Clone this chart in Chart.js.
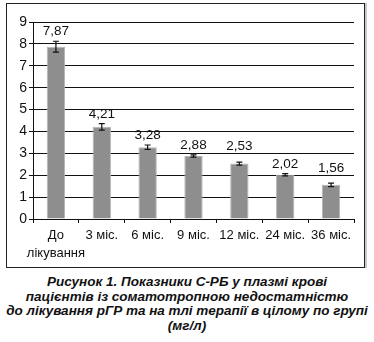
<!DOCTYPE html>
<html>
<head>
<meta charset="utf-8">
<script src="https://cdn.jsdelivr.net/npm/chart.js@4/dist/chart.umd.min.js"></script>
<style>
  body { margin: 0; background: #fff; width: 374px; height: 342px; position: relative; overflow: hidden; }
  .frame {
    position: absolute; left: 6px; top: 3px; width: 357px; height: 263px;
    border: 1px solid #222; box-shadow: 2px 0 0 #c8c8c8;
  }
  #chart { position: absolute; left: 0; top: 0; }
  .caption {
    position: absolute; left: 0; top: 275px; width: 374px; text-align: center;
    font: italic bold 13.5px "Liberation Sans", Arial, sans-serif; line-height: 14.5px; color: #111;
  }
</style>
</head>
<body>
<div class="frame"></div>
<canvas id="chart" width="374" height="270"></canvas>
<div class="caption">
  Рисунок 1. Показники С-РБ у плазмі крові<br>
  пацієнтів із соматотропною недостатністю<br>
  до лікування рГР та на тлі терапії в цілому по групі<br>
  (мг/л)
</div>
<script>
const periods = [["До", "лікування"], "3 міс.", "6 міс.", "9 міс.", "12 міс.", "24 міс.", "36 міс."];
const crpValues = [7.87, 4.21, 3.28, 2.88, 2.53, 2.02, 1.56];
const crpErrors = [0.25, 0.15, 0.1, 0.05, 0.07, 0.05, 0.08];
// extra lift (px) for labels that sit higher above their bars
const labelLift = [0, 0, 0, 0, 6, 0, 5];

const fontFamily = '"Liberation Sans", Arial, sans-serif';

// error whiskers and value labels on top of the bars
const barExtras = {
  id: "barExtras",
  afterDatasetsDraw(chart) {
    const ctx = chart.ctx;
    const yScale = chart.scales.y;
    const meta = chart.getDatasetMeta(0);
    ctx.save();
    meta.data.forEach((bar, i) => {
      const x = bar.x;
      const top = yScale.getPixelForValue(crpValues[i] + crpErrors[i]);
      const bottom = yScale.getPixelForValue(crpValues[i] - crpErrors[i]);
      ctx.strokeStyle = "#111";
      ctx.lineWidth = 1.2;
      ctx.beginPath();
      ctx.moveTo(x, top);
      ctx.lineTo(x, bottom);
      ctx.moveTo(x - 3, top);
      ctx.lineTo(x + 3, top);
      ctx.moveTo(x - 3, bottom);
      ctx.lineTo(x + 3, bottom);
      ctx.stroke();

      ctx.fillStyle = "#111";
      ctx.font = "13.5px " + fontFamily;
      ctx.textAlign = "center";
      ctx.textBaseline = "bottom";
      ctx.fillText(crpValues[i].toFixed(2).replace(".", ","), x, top - 3 - labelLift[i]);
    });
    ctx.restore();
  },
};

const chart = new Chart(document.getElementById("chart"), {
  type: "bar",
  data: {
    labels: periods,
    datasets: [
      {
        data: crpValues,
        backgroundColor: "#8e8e8e",
        borderColor: "#b4b4b4",
        borderWidth: 1,
        barPercentage: 0.4,
        categoryPercentage: 1,
      },
    ],
  },
  options: {
    responsive: false,
    animation: false,
    layout: { padding: { top: 22, right: 20, left: 0, bottom: 0 } },
    plugins: { legend: { display: false }, tooltip: { enabled: false } },
    scales: {
      x: {
        grid: { drawOnChartArea: false, tickLength: 4, color: "#111", offset: true },
        border: { color: "#111", width: 1 },
        ticks: {
          color: "#111",
          font: { size: 13, family: fontFamily, lineHeight: 1.35 },
          padding: 4,
          maxRotation: 0,
          autoSkip: false,
        },
        afterFit(scale) {
          scale.height = 51;
        },
      },
      y: {
        min: 0,
        max: 9,
        grid: { color: "#111", tickLength: 4 },
        border: { color: "#111", width: 1 },
        ticks: { stepSize: 1, color: "#111", font: { size: 14, family: fontFamily }, padding: 2 },
        afterFit(scale) {
          scale.width = 33;
        },
      },
    },
  },
  plugins: [barExtras],
});
</script>
</body>
</html>
